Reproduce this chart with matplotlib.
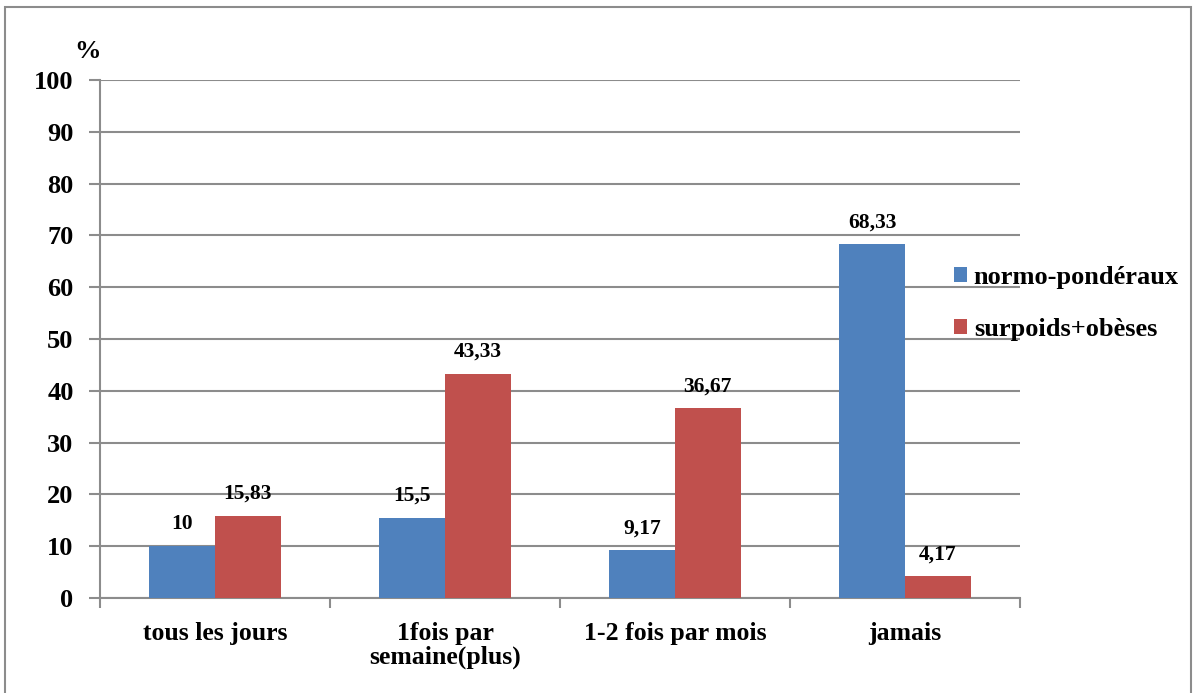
import matplotlib
matplotlib.use("Agg")
import matplotlib.pyplot as plt
import numpy as np
from matplotlib.patches import Rectangle

categories = ["tous les jours", "1fois par\nsemaine(plus)", "1-2 fois par mois", "jamais"]
normo = [10, 15.5, 9.17, 68.33]
surpoids = [15.83, 43.33, 36.67, 4.17]
series_names = ["normo-pondéraux", "surpoids+obèses"]
colors = ["#4F81BD", "#C0504D"]
yticks = list(range(0, 101, 10))

plt.rcParams["font.family"] = ["Liberation Serif", "DejaVu Serif"]
plt.rcParams["font.weight"] = "bold"

W, H = 1193, 693
fig = plt.figure(figsize=(W / 100, H / 100), dpi=100)
ax = fig.add_axes([100 / W, 1 - 598 / H, 920 / W, 518 / H])

# outer chart border
fig.patches.append(Rectangle((5 / W, -0.01), 1186 / W, 1 - 7 / H + 0.01,
                             transform=fig.transFigure, fill=False,
                             edgecolor="#8c8c8c", linewidth=1.5))

grid_c = "#8c8c8c"
x = np.arange(len(categories))
bw = 0.285
b1 = ax.bar(x - bw / 2, normo, bw, color=colors[0], label=series_names[0], zorder=3)
b2 = ax.bar(x + bw / 2, surpoids, bw, color=colors[1], label=series_names[1], zorder=3)

for bars, vals in ((b1, normo), (b2, surpoids)):
    for r, v in zip(bars, vals):
        txt = f"{v:g}".replace(".", ",")
        ax.text(r.get_x() + r.get_width() / 2, v + 2.3, txt, ha="center", va="bottom",
                fontsize=15.5, fontweight="bold")

ax.set_xlim(-0.5, len(categories) - 0.5)
ax.set_ylim(0, 100)
ax.set_yticks(yticks)
ax.set_yticklabels([str(t) for t in yticks], fontsize=19, fontweight="bold")
ax.yaxis.grid(True, color=grid_c, linewidth=1.5, zorder=0)
ax.set_axisbelow(True)

ax.set_xticks(np.arange(-0.5, len(categories), 1.0))
ax.set_xticklabels([])
ax.set_xticks(x, minor=True)
ax.set_xticklabels(categories, minor=True, fontsize=18.5, fontweight="bold", linespacing=1.05)
ax.tick_params(axis="x", which="minor", length=0, pad=17)
ax.tick_params(axis="x", which="major", length=7, width=1.5, color=grid_c)
ax.tick_params(axis="y", length=8, width=1.5, color=grid_c, pad=11)

for s in ("top", "right"):
    ax.spines[s].set_visible(False)
for s in ("left", "bottom"):
    ax.spines[s].set_color(grid_c)
    ax.spines[s].set_linewidth(1.5)

fig.text(88 / W, 1 - 51 / H, "%", ha="center", va="center", fontsize=19, fontweight="bold")

leg = fig.legend(handles=[b1, b2], labels=series_names, loc="upper left",
                 bbox_to_anchor=(954 / W, 1 - 266 / H), frameon=False,
                 fontsize=19, handlelength=0.5, handleheight=0.5, handletextpad=0.25,
                 labelspacing=1.1, borderaxespad=0, borderpad=0)

fig.savefig("out.png", dpi=100)
